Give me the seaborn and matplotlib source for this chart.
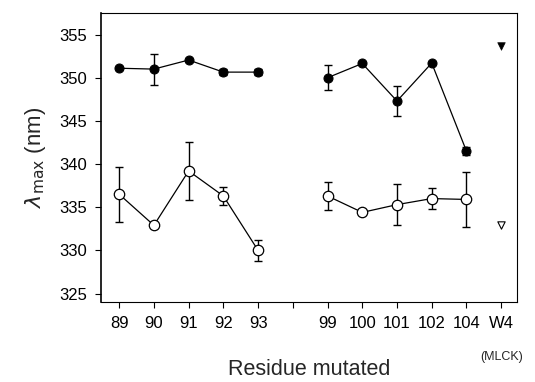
import matplotlib
matplotlib.use("Agg")
import matplotlib.pyplot as plt
import pandas as pd
import numpy as np
import seaborn as sns

sns.set_style("ticks")
plt.rcParams['font.family'] = ['Liberation Sans', 'DejaVu Sans']

# x categories (empty slot = gap between the two groups)
categories = ["89", "90", "91", "92", "93", "", "99", "100", "101", "102", "104", "W4"]

mutated = ["89", "90", "91", "92", "93", "99", "100", "101", "102", "104"]
segment = [1, 1, 1, 1, 1, 2, 2, 2, 2, 2]

filled_val = [351.1, 351.0, 352.05, 350.65, 350.65, 350.0, 351.65, 347.3, 351.7, 341.5]
filled_err = [0.0, 1.8, 0.0, 0.35, 0.35, 1.45, 0.0, 1.7, 0.0, 0.5]

open_val = [336.5, 332.9, 339.2, 336.3, 330.0, 336.3, 334.4, 335.3, 336.0, 335.9]
open_err = [3.2, 0.35, 3.35, 1.0, 1.2, 1.65, 0.35, 2.4, 1.2, 3.15]

w4_filled = 353.7
w4_open = 332.9

pos = {c: i for i, c in enumerate(categories)}
df = pd.DataFrame({"res": mutated, "seg": segment,
                   "filled": filled_val, "filled_err": filled_err,
                   "open": open_val, "open_err": open_err})
df["x"] = df["res"].map(pos)

fig = plt.figure(figsize=(5.35, 3.82), dpi=100)
ax = fig.add_axes([0.189, 0.209, 0.777, 0.757])

# filled series
ax.errorbar(df["x"], df["filled"], yerr=df["filled_err"], fmt="none",
            ecolor="black", elinewidth=1, capsize=3, capthick=1, zorder=2)
sns.lineplot(data=df, x="x", y="filled", units="seg", estimator=None,
             color="black", lw=0.9, marker="o", markersize=6.5,
             markerfacecolor="black", markeredgecolor="black", ax=ax, zorder=3)

# open series
ax.errorbar(df["x"], df["open"], yerr=df["open_err"], fmt="none",
            ecolor="black", elinewidth=1, capsize=3, capthick=1, zorder=2)
sns.lineplot(data=df, x="x", y="open", units="seg", estimator=None,
             color="black", lw=0.9, marker="o", markersize=7.5,
             markerfacecolor="white", markeredgecolor="black",
             markeredgewidth=0.9, ax=ax, zorder=3)

# W4 reference points
sns.scatterplot(x=[pos["W4"]], y=[w4_filled], marker="v", s=30,
                color="black", edgecolor="black", ax=ax, zorder=4)
sns.scatterplot(x=[pos["W4"]], y=[w4_open], marker="v", s=28,
                facecolor="white", edgecolor="black", linewidth=0.8, ax=ax, zorder=4)

ax.set_xlim(-0.52, 11.45)
ax.set_ylim(324, 357.5)
ax.set_xticks(range(len(categories)))
ax.set_xticklabels(categories)
ax.set_yticks(np.arange(325, 356, 5))
ax.tick_params(axis="both", direction="out", length=4, width=0.8,
               labelsize=12, colors="black", pad=6)

for side in ["top", "right", "bottom", "left"]:
    ax.spines[side].set_visible(True)
    ax.spines[side].set_color("black")
    ax.spines[side].set_linewidth(0.8)
ax.spines["left"].set_linewidth(1.2)

ax.set_xlabel("Residue mutated", fontsize=15.5, labelpad=20)
ax.set_ylabel(r"$\lambda_{\mathrm{max}}$ (nm)", fontsize=16, labelpad=8)
ax.text(pos["W4"], -0.17, "(MLCK)", transform=ax.get_xaxis_transform(),
        ha="center", va="top", fontsize=9)

fig.savefig("out.png", dpi=100)
